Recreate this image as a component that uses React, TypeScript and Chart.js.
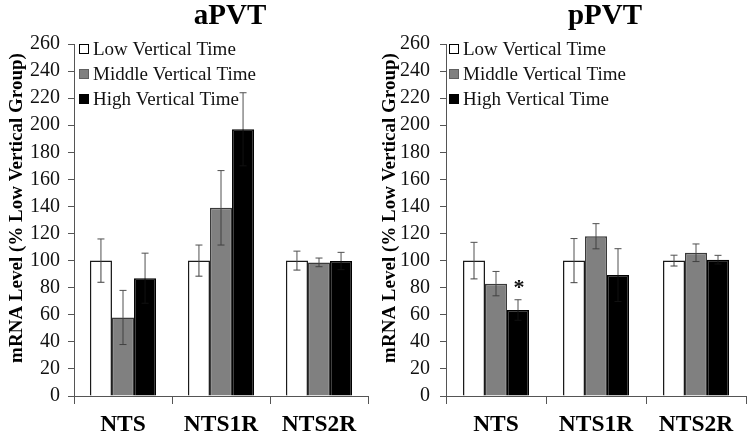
import React, { useEffect, useRef } from 'react';
import { Chart, registerables } from 'chart.js';

Chart.register(...registerables);

const categories = ['NTS', 'NTS1R', 'NTS2R'];
const seriesNames = ['Low Vertical Time', 'Middle Vertical Time', 'High Vertical Time'];
const yMin = 0;
const yMax = 260;
const yStep = 20;
const yAxisTitle = 'mRNA Level (% Low Vertical Group)';

// aPVT
const aLow = [100, 100, 100];
const aLowErr = [16, 11.5, 7];
const aMid = [58, 139, 98.7];
const aMidErr = [20, 27.5, 3.2];
const aHigh = [87, 197, 99.7];
const aHighErr = [18.5, 27, 6.4];
const aHighSig = ['', '', ''];

// pPVT
const pLow = [100, 100, 100];
const pLowErr = [13.5, 16.3, 4];
const pMid = [83, 118, 105.8];
const pMidErr = [9, 9.3, 6.5];
const pHigh = [63.5, 89.3, 100.7];
const pHighErr = [7.6, 19.5, 3.2];
const pHighSig = ['*', '', ''];

const FONT = '"Liberation Serif", "Times New Roman", serif';
const fills = ['#ffffff', '#808080', '#000000'];
const borders = ['#1a1a1a', '#3a3a3a', '#000000'];

const errorBarPlugin = {
  id: 'errorBars',
  afterDatasetsDraw(chart: any) {
    const ctx = chart.ctx;
    const yScale = chart.scales.y;
    ctx.save();
    chart.data.datasets.forEach((ds: any, i: number) => {
      const meta = chart.getDatasetMeta(i);
      meta.data.forEach((bar: any, j: number) => {
        const v = ds.data[j];
        const e = ds.errors ? ds.errors[j] : 0;
        const x = bar.x;
        const yTop = yScale.getPixelForValue(v + e);
        const yVal = yScale.getPixelForValue(v);
        const yBot = yScale.getPixelForValue(v - e);
        ctx.lineWidth = 1;
        // upper part
        ctx.strokeStyle = '#505050';
        ctx.beginPath();
        ctx.moveTo(x, yTop);
        ctx.lineTo(x, yVal);
        ctx.moveTo(x - 3.5, yTop);
        ctx.lineTo(x + 3.5, yTop);
        ctx.stroke();
        // lower part (inside the bar)
        ctx.strokeStyle = i === 2 ? '#111111' : '#404040';
        ctx.beginPath();
        ctx.moveTo(x, yVal);
        ctx.lineTo(x, yBot);
        ctx.moveTo(x - 3.5, yBot);
        ctx.lineTo(x + 3.5, yBot);
        ctx.stroke();
        const s = ds.sig ? ds.sig[j] : '';
        if (s) {
          ctx.fillStyle = '#111';
          ctx.font = `bold 22px ${FONT}`;
          ctx.textAlign = 'center';
          ctx.textBaseline = 'middle';
          ctx.fillText(s, x + 1, yTop - 11);
        }
      });
    });
    ctx.restore();
  },
};

const decorPlugin = {
  id: 'decor',
  afterDraw(chart: any) {
    const ctx = chart.ctx;
    const ca = chart.chartArea;
    const o = chart.options.plugins.decor;
    ctx.save();
    // title
    ctx.fillStyle = '#000';
    ctx.font = `bold 29px ${FONT}`;
    ctx.textAlign = 'center';
    ctx.textBaseline = 'middle';
    ctx.fillText(o.title, (ca.left + ca.right) / 2 + 9, 17);
    // y axis title
    ctx.save();
    ctx.translate(o.yTitleX, (ca.top + ca.bottom) / 2 - 12);
    ctx.rotate(-Math.PI / 2);
    ctx.font = `bold 19px ${FONT}`;
    ctx.fillStyle = '#000';
    ctx.fillText(yAxisTitle, 0, 0);
    ctx.restore();
    // legend
    chart.data.datasets.forEach((ds: any, i: number) => {
      const bx = ca.left + o.legendInset;
      const by = ca.top + 25 * i;
      ctx.fillStyle = ds.backgroundColor;
      ctx.fillRect(bx, by, 10, 10);
      ctx.strokeStyle = i === 1 ? '#606060' : '#000';
      ctx.lineWidth = 1;
      ctx.strokeRect(bx + 0.5, by + 0.5, 9, 9);
      ctx.fillStyle = '#111';
      ctx.font = `19px ${FONT}`;
      ctx.textAlign = 'left';
      ctx.textBaseline = 'middle';
      ctx.fillText(ds.label, bx + 14, by + 6);
    });
    ctx.restore();
  },
};

type PanelProps = {
  title: string;
  low: number[];
  lowErr: number[];
  mid: number[];
  midErr: number[];
  high: number[];
  highErr: number[];
  highSig: string[];
  axisWidth: number;
  padRight: number;
  catPct: number;
  legendInset: number;
  yTitleX: number;
  tickPad: number;
};

function Panel(p: PanelProps) {
  const ref = useRef<HTMLCanvasElement | null>(null);
  useEffect(() => {
    if (!ref.current) return;
    const values = [p.low, p.mid, p.high];
    const errs = [p.lowErr, p.midErr, p.highErr];
    const sigs = [[], [], p.highSig];
    const chart = new Chart(ref.current, {
      type: 'bar',
      data: {
        labels: categories,
        datasets: seriesNames.map((name, i) => ({
          label: name,
          data: values[i],
          errors: errs[i],
          sig: sigs[i],
          backgroundColor: fills[i],
          borderColor: borders[i],
          borderWidth: 1.5,
          categoryPercentage: p.catPct,
          barPercentage: 1,
        })) as any,
      },
      options: {
        animation: false,
        responsive: false,
        layout: { padding: { top: 44, right: p.padRight, left: 0, bottom: 0 } },
        plugins: {
          legend: { display: false },
          tooltip: { enabled: false },
          decor: { title: p.title, legendInset: p.legendInset, yTitleX: p.yTitleX },
        } as any,
        scales: {
          x: {
            grid: {
              offset: true,
              drawOnChartArea: false,
              drawTicks: true,
              tickLength: 8,
              color: '#555',
            },
            border: { color: '#555', width: 1 },
            ticks: {
              color: '#000',
              font: { family: FONT, size: 23.5, weight: 'bold' },
              padding: 7,
            },
            afterFit: (s: any) => {
              s.height = 43;
            },
          },
          y: {
            min: yMin,
            max: yMax,
            ticks: {
              stepSize: yStep,
              color: '#111',
              font: { family: FONT, size: 20 },
              padding: p.tickPad,
            },
            grid: {
              drawOnChartArea: false,
              drawTicks: true,
              tickLength: 6,
              color: '#555',
            },
            border: { color: '#555', width: 1 },
            afterFit: (s: any) => {
              s.width = p.axisWidth;
            },
          },
        },
      },
      plugins: [errorBarPlugin, decorPlugin],
    });
    return () => chart.destroy();
  }, []);
  return <canvas ref={ref} width={377} height={439} style={{ display: 'block' }} />;
}

export default function App() {
  return (
    <div
      style={{
        position: 'absolute',
        left: 0,
        top: 0,
        width: 754,
        height: 439,
        display: 'flex',
        background: '#fff',
      }}
    >
      <Panel
        title="aPVT"
        low={aLow}
        lowErr={aLowErr}
        mid={aMid}
        midErr={aMidErr}
        high={aHigh}
        highErr={aHighErr}
        highSig={aHighSig}
        axisWidth={74}
        padRight={9}
        catPct={0.675}
        legendInset={5}
        yTitleX={17}
        tickPad={8}
      />
      <Panel
        title="pPVT"
        low={pLow}
        lowErr={pLowErr}
        mid={pMid}
        midErr={pMidErr}
        high={pHigh}
        highErr={pHighErr}
        highSig={pHighSig}
        axisWidth={69}
        padRight={8}
        catPct={0.66}
        legendInset={3}
        yTitleX={13}
        tickPad={10}
      />
    </div>
  );
}
